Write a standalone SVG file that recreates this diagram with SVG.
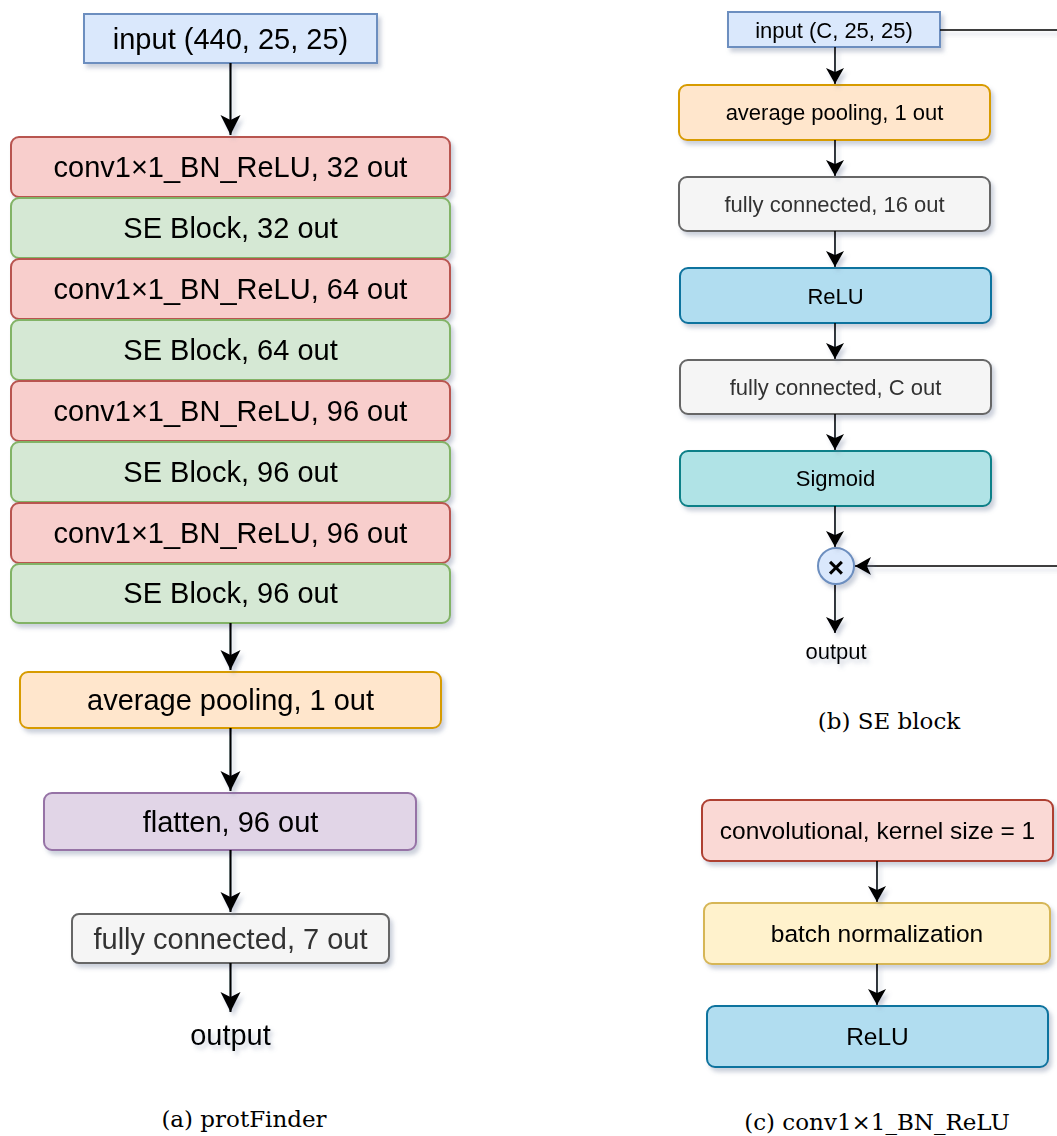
<svg xmlns="http://www.w3.org/2000/svg" width="1057" height="1136" viewBox="0 0 1057 1136">
  <style>
    text { font-family: "Liberation Sans", Arial, sans-serif; fill: #000; text-anchor: middle; dominant-baseline: central; }
    .big { font-size: 29px; }
    .mid { font-size: 22px; }
    .cmid { font-size: 24.5px; }
    .grey { fill: #333333; }
    .cap { font-family: "DejaVu Serif", "Liberation Serif", serif; font-size: 23px; dominant-baseline: alphabetic; }
    .n { stroke-width: 2; }
    .blue { fill: #dae8fc; stroke: #6c8ebf; }
    .red { fill: #f8cecc; stroke: #b85450; }
    .green { fill: #d5e8d4; stroke: #82b366; }
    .orange { fill: #ffe6cc; stroke: #d79b00; }
    .purple { fill: #e1d5e7; stroke: #9673a6; }
    .gray { fill: #f5f5f5; stroke: #666666; }
    .relu { fill: #b1ddf0; stroke: #10739e; }
    .sig { fill: #b0e3e6; stroke: #0e8088; }
    .conv { fill: #fad9d5; stroke: #ae4132; }
    .bn { fill: #fff2cc; stroke: #d6b656; }
    .e { fill: none; stroke: #000; }
    .e2 { stroke-width: 2.2; }
    .e1 { stroke-width: 1.6; }
  </style>
  <defs>
    <filter id="shadow" x="-10%" y="-30%" width="130%" height="180%">
      <feDropShadow dx="3" dy="4" stdDeviation="2.2" flood-color="#6a7899" flood-opacity="0.35"/>
    </filter>
    <marker id="arrowL" markerUnits="userSpaceOnUse" markerWidth="22" markerHeight="22" refX="20" refY="10" orient="auto">
      <path d="M0,0 L20,10 L0,20 L5,10 Z" fill="#000"/>
    </marker>
    <marker id="arrowS" markerUnits="userSpaceOnUse" markerWidth="20" markerHeight="20" refX="16" refY="9" orient="auto">
      <path d="M0,0 L16,9 L0,18 L4,9 Z" fill="#000"/>
    </marker>
  </defs>

  <!-- (a) protFinder -->
  <g filter="url(#shadow)">
    <g id="a-input"><rect class="n blue" x="84" y="14" width="293" height="49"/><text class="big" x="230.5" y="39">input (440, 25, 25)</text></g>
    <g id="a-conv32"><rect class="n red" x="11" y="137" width="439" height="60" rx="8"/><text class="big" x="230.5" y="167">conv1×1_BN_ReLU, 32 out</text></g>
    <g id="a-se32"><rect class="n green" x="11" y="198" width="439" height="60" rx="8"/><text class="big" x="230.5" y="228">SE Block, 32 out</text></g>
    <g id="a-conv64"><rect class="n red" x="11" y="259" width="439" height="60" rx="8"/><text class="big" x="230.5" y="289">conv1×1_BN_ReLU, 64 out</text></g>
    <g id="a-se64"><rect class="n green" x="11" y="320" width="439" height="60" rx="8"/><text class="big" x="230.5" y="350">SE Block, 64 out</text></g>
    <g id="a-conv96a"><rect class="n red" x="11" y="381" width="439" height="60" rx="8"/><text class="big" x="230.5" y="411">conv1×1_BN_ReLU, 96 out</text></g>
    <g id="a-se96a"><rect class="n green" x="11" y="442" width="439" height="60" rx="8"/><text class="big" x="230.5" y="472">SE Block, 96 out</text></g>
    <g id="a-conv96b"><rect class="n red" x="11" y="503" width="439" height="60" rx="8"/><text class="big" x="230.5" y="533">conv1×1_BN_ReLU, 96 out</text></g>
    <g id="a-se96b"><rect class="n green" x="11" y="564" width="439" height="59" rx="8"/><text class="big" x="230.5" y="593">SE Block, 96 out</text></g>
    <g id="a-pool"><rect class="n orange" x="20" y="672" width="421" height="56" rx="8"/><text class="big" x="230.5" y="700">average pooling, 1 out</text></g>
    <g id="a-flatten"><rect class="n purple" x="44" y="793" width="372" height="57" rx="8"/><text class="big" x="230.5" y="822">flatten, 96 out</text></g>
    <g id="a-fc7"><rect class="n gray" x="72" y="914" width="317" height="49" rx="7"/><text class="big grey" x="230.5" y="939">fully connected, 7 out</text></g>
    <g id="a-output"><text class="big" x="230.5" y="1035">output</text></g>
  </g>

  <!-- (b) SE block -->
  <g filter="url(#shadow)">
    <g id="b-input"><rect class="n blue" x="728" y="12" width="212" height="35"/><text class="mid" x="834" y="30">input (C, 25, 25)</text></g>
    <g id="b-pool"><rect class="n orange" x="679" y="85" width="311" height="55" rx="8"/><text class="mid" x="834.5" y="112">average pooling, 1 out</text></g>
    <g id="b-fc16"><rect class="n gray" x="679" y="177" width="311" height="54" rx="8"/><text class="mid grey" x="834.5" y="204">fully connected, 16 out</text></g>
    <g id="b-relu"><rect class="n relu" x="680" y="268" width="311" height="55" rx="8"/><text class="mid" x="835.5" y="296">ReLU</text></g>
    <g id="b-fcC"><rect class="n gray" x="680" y="360" width="311" height="54" rx="8"/><text class="mid grey" x="835.5" y="387">fully connected, C out</text></g>
    <g id="b-sigmoid"><rect class="n sig" x="680" y="451" width="311" height="55" rx="8"/><text class="mid" x="835.5" y="478">Sigmoid</text></g>
    <g id="b-mul"><circle class="n blue" cx="836" cy="566" r="18"/><text x="836" y="567" style="font-size:28px;font-weight:bold">×</text></g>
    <g id="b-output"><text class="mid" x="836" y="651">output</text></g>
  </g>

  <!-- (c) conv1x1_BN_ReLU -->
  <g filter="url(#shadow)">
    <g id="c-conv"><rect class="n conv" x="702" y="800" width="351" height="61" rx="8"/><text class="cmid" x="877.5" y="830">convolutional, kernel size = 1</text></g>
    <g id="c-bn"><rect class="n bn" x="704" y="903" width="346" height="61" rx="8"/><text class="cmid" x="877" y="933">batch normalization</text></g>
    <g id="c-relu"><rect class="n relu" x="707" y="1006" width="341" height="61" rx="8"/><text class="cmid" x="877.5" y="1036">ReLU</text></g>
  </g>

  <!-- connectors -->
  <g id="connectors" filter="url(#shadow)">
    <path class="e e2" d="M230.5,63 V135" marker-end="url(#arrowL)"/>
    <path class="e e2" d="M230.5,623 V670" marker-end="url(#arrowL)"/>
    <path class="e e2" d="M230.5,728 V791" marker-end="url(#arrowL)"/>
    <path class="e e2" d="M230.5,850 V912" marker-end="url(#arrowL)"/>
    <path class="e e2" d="M230.5,963 V1012" marker-end="url(#arrowL)"/>

    <path class="e e1" d="M835,47 V84" marker-end="url(#arrowS)"/>
    <path class="e e1" d="M835,140 V176" marker-end="url(#arrowS)"/>
    <path class="e e1" d="M835,231 V267" marker-end="url(#arrowS)"/>
    <path class="e e1" d="M835,323 V359" marker-end="url(#arrowS)"/>
    <path class="e e1" d="M835,414 V450" marker-end="url(#arrowS)"/>
    <path class="e e1" d="M835,506 V547" marker-end="url(#arrowS)"/>
    <path class="e e1" d="M835,585 V633" marker-end="url(#arrowS)"/>
    <path class="e e1" d="M940,30 H1070 V566 H855" marker-end="url(#arrowS)"/>

    <path class="e e1" d="M877,861 V902" marker-end="url(#arrowS)"/>
    <path class="e e1" d="M877,964 V1005" marker-end="url(#arrowS)"/>
  </g>

  <!-- captions -->
  <text class="cap" x="244" y="1127">(a) protFinder</text>
  <text class="cap" x="889" y="729">(b) SE block</text>
  <text class="cap" x="877" y="1130">(c) conv1×1_BN_ReLU</text>
</svg>
